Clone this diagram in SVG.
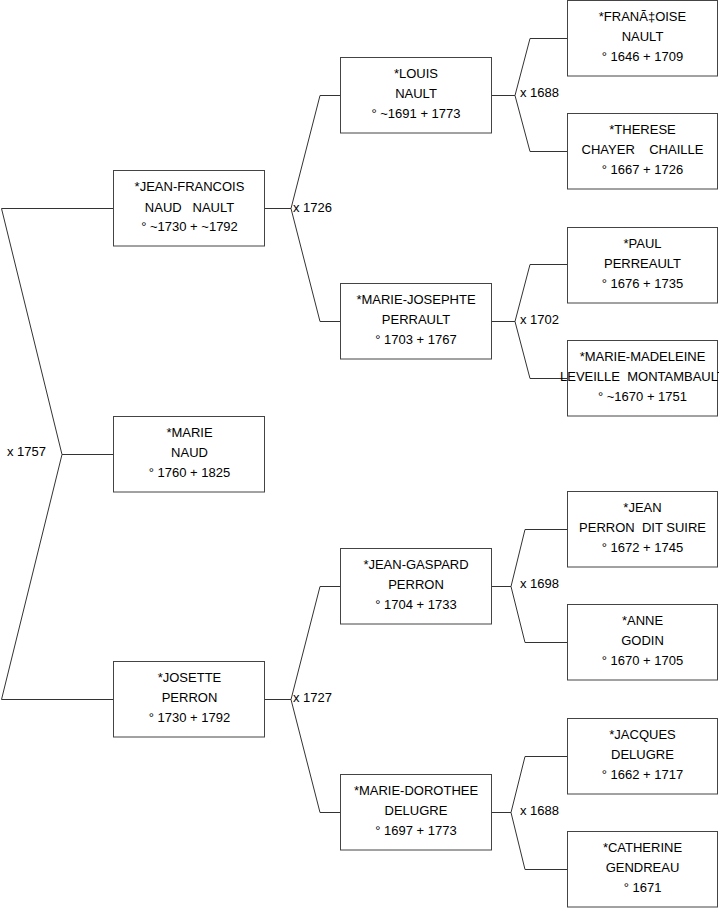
<svg xmlns="http://www.w3.org/2000/svg" width="719" height="908" viewBox="0 0 719 908">
<style>
.box{fill:#fff;stroke:#444;stroke-width:1}
.ln{fill:none;stroke:#333;stroke-width:1}
text{font-family:"Liberation Sans",Arial,sans-serif;font-size:13px;fill:#000;white-space:pre}
.c{text-anchor:middle}
</style>
<rect width="719" height="908" fill="#fff"/>
<g id="connectors">
<polyline class="ln" points="114,208.5 1.5,208.5 62,454.5 1.5,699.5 114,699.5"/>
<line class="ln" x1="62" y1="454.5" x2="114" y2="454.5"/>
<line class="ln" x1="265" y1="208.5" x2="291" y2="208.5"/>
<polyline class="ln" points="340,95.5 320,95.5 291,208.5 320,321.5 340,321.5"/>
<line class="ln" x1="265" y1="699.5" x2="291" y2="699.5"/>
<polyline class="ln" points="340,586.5 320,586.5 291,699.5 320,812.5 340,812.5"/>
<line class="ln" x1="491" y1="95.5" x2="515" y2="95.5"/>
<polyline class="ln" points="567,38.5 530,38.5 515,95.5 530,151.5 567,151.5"/>
<line class="ln" x1="491" y1="321.5" x2="515" y2="321.5"/>
<polyline class="ln" points="567,264.5 530,264.5 515,321.5 530,378.5 567,378.5"/>
<line class="ln" x1="491" y1="586.5" x2="511" y2="586.5"/>
<polyline class="ln" points="567,529.5 525,529.5 511,586.5 525,642.5 567,642.5"/>
<line class="ln" x1="491" y1="812.5" x2="511" y2="812.5"/>
<polyline class="ln" points="567,756.5 525,756.5 511,812.5 525,869.5 567,869.5"/>
<text x="7" y="456">x 1757</text>
<text x="293" y="211.5">x 1726</text>
<text x="293" y="701.5">x 1727</text>
<text x="520" y="97">x 1688</text>
<text x="520" y="324">x 1702</text>
<text x="520" y="588">x 1698</text>
<text x="520" y="815">x 1688</text>
</g>
<g id="jean-francois">
<rect class="box" x="113.5" y="170.5" width="151" height="75.5"/>
<text class="c" x="189.5" y="191">*JEAN-FRANCOIS</text>
<text class="c" x="189.5" y="212">NAUD   NAULT</text>
<text class="c" x="189.5" y="231">° ~1730 + ~1792</text>
</g>
<g id="marie">
<rect class="box" x="113.5" y="416.5" width="151" height="75.5"/>
<text class="c" x="189.5" y="437">*MARIE</text>
<text class="c" x="189.5" y="457">NAUD</text>
<text class="c" x="189.5" y="477">° 1760 + 1825</text>
</g>
<g id="josette">
<rect class="box" x="113.5" y="661.5" width="151" height="75.5"/>
<text class="c" x="189.5" y="682">*JOSETTE</text>
<text class="c" x="189.5" y="702">PERRON</text>
<text class="c" x="189.5" y="722">° 1730 + 1792</text>
</g>
<g id="louis">
<rect class="box" x="340.5" y="57.5" width="151" height="75.5"/>
<text class="c" x="416" y="78">*LOUIS</text>
<text class="c" x="416" y="98">NAULT</text>
<text class="c" x="416" y="118">° ~1691 + 1773</text>
</g>
<g id="marie-josephte">
<rect class="box" x="340.5" y="283.5" width="151" height="75.5"/>
<text class="c" x="416" y="304">*MARIE-JOSEPHTE</text>
<text class="c" x="416" y="324">PERRAULT</text>
<text class="c" x="416" y="344">° 1703 + 1767</text>
</g>
<g id="jean-gaspard">
<rect class="box" x="340.5" y="548.5" width="151" height="75.5"/>
<text class="c" x="416" y="569">*JEAN-GASPARD</text>
<text class="c" x="416" y="589">PERRON</text>
<text class="c" x="416" y="609">° 1704 + 1733</text>
</g>
<g id="marie-dorothee">
<rect class="box" x="340.5" y="774.5" width="151" height="75.5"/>
<text class="c" x="416" y="795">*MARIE-DOROTHEE</text>
<text class="c" x="416" y="815">DELUGRE</text>
<text class="c" x="416" y="835">° 1697 + 1773</text>
</g>
<g id="francoise">
<rect class="box" x="567.5" y="0.5" width="150" height="75.5"/>
<text class="c" x="642.5" y="21">*FRANÃ‡OISE</text>
<text class="c" x="642.5" y="41">NAULT</text>
<text class="c" x="642.5" y="61">° 1646 + 1709</text>
</g>
<g id="therese">
<rect class="box" x="567.5" y="113.5" width="150" height="75.5"/>
<text class="c" x="642.5" y="134">*THERESE</text>
<text class="c" x="642.5" y="154">CHAYER    CHAILLE</text>
<text class="c" x="642.5" y="174">° 1667 + 1726</text>
</g>
<g id="paul">
<rect class="box" x="567.5" y="227.5" width="150" height="75.5"/>
<text class="c" x="642.5" y="248">*PAUL</text>
<text class="c" x="642.5" y="268">PERREAULT</text>
<text class="c" x="642.5" y="288">° 1676 + 1735</text>
</g>
<g id="marie-madeleine">
<rect class="box" x="567.5" y="340.5" width="150" height="75.5"/>
<text class="c" x="642.5" y="361">*MARIE-MADELEINE</text>
<text class="c" x="642.5" y="381">LEVEILLE  MONTAMBAULT</text>
<text class="c" x="642.5" y="401">° ~1670 + 1751</text>
</g>
<g id="jean">
<rect class="box" x="567.5" y="491.5" width="150" height="75.5"/>
<text class="c" x="642.5" y="512">*JEAN</text>
<text class="c" x="642.5" y="532">PERRON  DIT SUIRE</text>
<text class="c" x="642.5" y="552">° 1672 + 1745</text>
</g>
<g id="anne">
<rect class="box" x="567.5" y="604.5" width="150" height="75.5"/>
<text class="c" x="642.5" y="625">*ANNE</text>
<text class="c" x="642.5" y="645">GODIN</text>
<text class="c" x="642.5" y="665">° 1670 + 1705</text>
</g>
<g id="jacques">
<rect class="box" x="567.5" y="718.5" width="150" height="75.5"/>
<text class="c" x="642.5" y="739">*JACQUES</text>
<text class="c" x="642.5" y="759">DELUGRE</text>
<text class="c" x="642.5" y="779">° 1662 + 1717</text>
</g>
<g id="catherine">
<rect class="box" x="567.5" y="831.5" width="150" height="75.5"/>
<text class="c" x="642.5" y="852">*CATHERINE</text>
<text class="c" x="642.5" y="872">GENDREAU</text>
<text class="c" x="642.5" y="892">° 1671</text>
</g>
</svg>
